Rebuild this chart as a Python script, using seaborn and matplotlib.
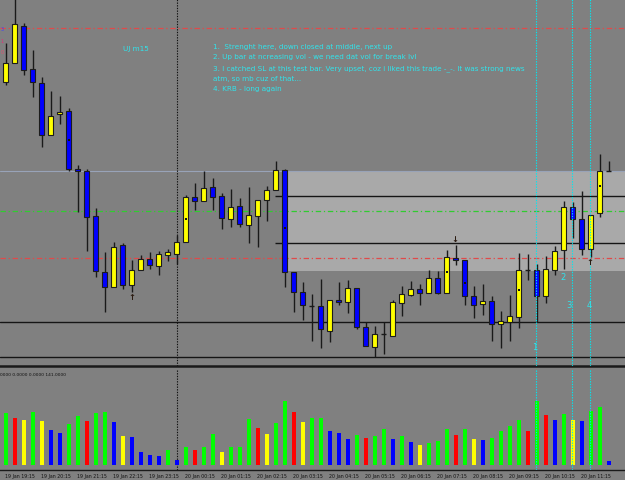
import matplotlib
matplotlib.use("Agg")
import matplotlib.pyplot as plt
import numpy as np
import pandas as pd
import seaborn as sns
from matplotlib.patches import Rectangle
from matplotlib.transforms import blended_transform_factory

# ---------------- data ----------------
opens = [286.7, 305.7, 342.7, 299.7, 285.7, 234.3, 254.7, 257.7, 199.7, 197.7,
         152.7, 97.3, 81.7, 124.3, 84.3, 98.7, 109.7, 103.3, 114.0, 115.3,
         126.7, 172.0, 168.0, 181.7, 173.3, 150.0, 163.0, 144.3, 153.3, 169.0,
         178.7, 198.7, 96.7, 76.7, 62.7, 62.7, 38.3, 69.3, 67.3, 80.7,
         41.7, 21.7, 35.0, 33.3, 66.3, 74.3, 79.7, 75.7, 91.0, 76.3,
         111.0, 108.7, 73.3, 64.7, 67.7, 44.7, 46.7, 52.3, 98.7, 99.0,
         73.3, 99.3, 118.7, 161.7, 150.0, 119.7, 155.7, 197.7]
highs = [325.7, 373.0, 346.3, 319.3, 291.7, 278.3, 272.7, 260.7, 204.3, 200.0,
         161.3, 116.7, 127.3, 125.7, 109.3, 114.3, 116.7, 118.3, 120.0, 134.0,
         174.0, 186.0, 198.0, 191.0, 176.0, 179.7, 170.7, 182.0, 169.3, 183.3,
         207.7, 200.0, 96.7, 87.3, 75.0, 90.0, 69.3, 86.7, 89.0, 80.7,
         46.7, 42.7, 46.7, 69.3, 83.3, 87.7, 85.0, 99.0, 97.7, 119.0,
         124.3, 108.7, 83.3, 85.0, 72.7, 57.7, 74.0, 116.0, 114.7, 105.0,
         112.7, 122.7, 168.3, 166.7, 178.0, 154.0, 215.0, 208.3]
lows = [284.3, 305.7, 294.0, 272.3, 222.0, 234.3, 245.0, 198.3, 157.3, 118.0,
        91.7, 57.3, 81.7, 80.0, 77.0, 98.7, 100.0, 94.0, 108.3, 105.0,
        126.7, 159.5, 168.0, 159.3, 140.0, 142.3, 142.3, 125.7, 122.3, 148.3,
        178.7, 81.7, 56.7, 49.3, 28.3, 21.0, 27.3, 64.0, 55.7, 40.0,
        22.7, 11.7, 15.0, 33.3, 53.3, 73.3, 64.0, 75.7, 75.0, 75.7,
        104.3, 64.0, 51.3, 54.0, 28.3, 21.3, 28.3, 41.3, 89.3, 46.7,
        65.7, 94.3, 100.0, 131.0, 114.3, 111.7, 152.3, 197.7]
closes = [305.7, 345.3, 299.3, 287.3, 234.3, 252.7, 256.7, 200.3, 198.3, 152.3,
          98.3, 81.7, 122.0, 84.0, 99.0, 109.7, 104.0, 114.7, 116.7, 126.7,
          172.0, 168.3, 180.7, 172.3, 151.3, 161.7, 145.0, 154.0, 169.3, 178.7,
          198.7, 96.7, 76.7, 64.3, 62.7, 40.0, 69.3, 67.3, 80.7, 41.7,
          22.7, 34.7, 35.0, 66.7, 74.7, 79.7, 75.7, 91.3, 76.0, 112.0,
          108.7, 73.3, 64.3, 67.7, 45.0, 47.7, 53.0, 98.7, 98.7, 73.3,
          99.7, 118.3, 161.7, 150.0, 119.7, 154.0, 197.7, 197.7]

volumes = [1822, 1657, 1586, 1879, 1562, 1234, 1128, 1445, 1717, 1562,
           1844, 1858, 1505, 1022, 998, 448, 363, 317, 539, 187,
           624, 529, 624, 1093, 458, 624, 635, 1622, 1304, 1093,
           1491, 2267, 1879, 1505, 1657, 1667, 1188, 1128, 927, 1058,
           952, 1022, 1280, 927, 1033, 821, 716, 786, 857, 1280,
           1047, 1280, 917, 881, 952, 1209, 1375, 1586, 1209, 2267,
           1773, 1586, 1808, 1586, 1562, 1893, 2034, 141]
volume_kind = list("GRYGYBBGGRGGBYBBBBGBGRGGYGGGRYGGRYGGBBBGRGGBGBYGGGRGYBGGGGRGRBGYBGGB")

label_bars = [0, 4, 8, 12, 16, 20, 24, 28, 32, 36, 40, 44, 48, 52, 56, 60, 64]
time_labels = ["19 Jan 19:15", "19 Jan 20:15", "19 Jan 21:15", "19 Jan 22:15",
               "19 Jan 23:15", "20 Jan 00:15", "20 Jan 01:15", "20 Jan 02:15",
               "20 Jan 03:15", "20 Jan 04:15", "20 Jan 05:15", "20 Jan 06:15",
               "20 Jan 07:15", "20 Jan 08:15", "20 Jan 09:15", "20 Jan 10:15",
               "20 Jan 11:15"]

dot_bars = [7, 20, 31, 49, 51, 57, 66]
dot_levels = [229.3, 150.0, 141.3, 97.3, 86.0, 79.0, 183.3]

red_levels = [341.3, 110.7]
green_level = 157.7
blue_level = 198.0
black_levels = [46.7, 11.7]
zone_line_levels = [173.0, 125.7]
zone_start_bar = 31.33
zone_low, zone_high = 97.7, 198.3
separator_bar = 19
signal_bars = [58.96, 62.96, 64.96]

notes = ["1.  Strenght here, down closed at middle, next up",
         "2. Up bar at ncreasing vol - we need dat vol for break lvl",
         "3. I catched SL at this test bar. Very upset, coz i liked this trade -_-. It was strong news",
         "atm, so mb cuz of that...",
         "4. KRB - long again"]
signal_names = ["1", "2", "3", "4"]

# ---------------- figure ----------------
W, H = 625, 481
BG = "#808080"
sns.set_style("white")
plt.rcParams["font.family"] = ["DejaVu Sans"]

fig = plt.figure(figsize=(W / 100, H / 100), dpi=100, facecolor=BG)
ax = fig.add_axes([0, (H - 367) / H, 1, 367 / H], facecolor=BG)
axv = fig.add_axes([0, (H - 470.7) / H, 1, 100.7 / H], facecolor=BG)

n = len(opens)
xlim = (-5.7 / 9, (W - 5.7) / 9)

def fpx(x, y):
    return x / W, 1 - y / H

# zone
ax.add_patch(Rectangle((zone_start_bar, zone_low), 80, zone_high - zone_low,
                       facecolor="#a9a9a9", edgecolor="none", zorder=0.5))
ax.axhline(blue_level, color="#98a3b8", lw=0.8, zorder=0.8)

dashdot = (0, (4.3, 2.2, 1.0, 2.2))
for lv in red_levels:
    ax.axhline(lv, color="#e04a4a", lw=0.9, ls=dashdot, zorder=1)
ax.axhline(green_level, color="#30cc30", lw=0.9, ls=dashdot, zorder=1)
for lv in black_levels:
    ax.axhline(lv, color="#151515", lw=1.0, zorder=1)
for lv in zone_line_levels:
    ax.hlines(lv, (275 - 5.7) / 9, 80, color="#151515", lw=1.0, zorder=1)

for a in (ax, axv):
    a.axvline(separator_bar, color="#111111", lw=0.8, ls=(0, (1.2, 1.2)), zorder=1.5)

# candles
bw = 0.62
for k in range(n):
    o, h, l, c = opens[k], highs[k], lows[k], closes[k]
    ax.vlines(k, l, h, color="#1a1a1a", lw=1.0, zorder=2)
    if abs(c - o) < 0.01:
        ax.hlines(o, k - bw / 2, k + bw / 2, color="#1a1a1a", lw=1.0, zorder=3)
    else:
        fill = "#ffff00" if c > o else "#0000ff"
        ax.bar(k, abs(c - o), bottom=min(o, c), width=bw, color=fill,
               edgecolor="#1c1c1c", lw=0.8, zorder=3)
ax.scatter(dot_bars, dot_levels, s=2, marker="s", color="#111111", zorder=4, linewidths=0)

for sb in signal_bars:
    for a in (ax, axv):
        a.axvline(sb, color="#00e8f0", lw=0.8, ls=(0, (1.2, 1.2)), zorder=5)

ax.set_xlim(*xlim)
ax.set_ylim(3, 370)
ax.set_xticks([])
ax.set_yticks([])
for s in ["top", "left", "right"]:
    ax.spines[s].set_visible(False)
ax.spines["bottom"].set_color("#1a1a1a")
ax.spines["bottom"].set_linewidth(1.8)

# texts
cyan = "#30e4ec"
fig.text(*fpx(122.7, 49.3), "UJ m15", color=cyan, fontsize=5.2, va="center", ha="left")
for yy, t in zip([46.7, 57.3, 68.3, 79.3, 89.3], notes):
    fig.text(*fpx(213.3, yy), t, color=cyan, fontsize=5.2, va="center", ha="left")
for (xx, yy), t in zip([(535, 348), (563, 277.7), (569, 305.7), (589.3, 305.7)], signal_names):
    fig.text(*fpx(xx, yy), t, color=cyan, fontsize=6, va="center", ha="center")
for (xx, yy), t in zip([(131.7, 297.7), (455, 240), (590, 262.7)], ["↑", "↓", "↑"]):
    fig.text(*fpx(xx, yy), t, color="#2a1a10", fontsize=6, fontweight="bold",
             va="center", ha="center")
for (yy, t, col) in [(29.5, "3", "#4040ff"), (41.7, "1", "#e0307a"), (52.7, "0", "#e05070")]:
    fig.text(*fpx(0.3, yy), t, color=col, fontsize=3.5, va="center", ha="left")

# volume panel
df = pd.DataFrame({"bar": np.arange(n), "volume": volumes, "kind": volume_kind})
cmap = {"G": "#00ff00", "R": "#ff0000", "Y": "#ffff00", "B": "#0000ff"}
palette = {b: cmap[k] for b, k in zip(df["bar"], df["kind"])}
sns.barplot(data=df, x="bar", y="volume", hue="bar", palette=palette, legend=False,
            width=0.45, saturation=1, ax=axv, linewidth=0, zorder=3)
axv.set_xlim(*xlim)
axv.set_ylim(-166, 3384)
axv.set_xlabel("")
axv.set_ylabel("")
axv.set_yticks([])
axv.set_xticks(label_bars)
axv.set_xticklabels([])
axv.tick_params(axis="x", direction="inout", length=4, width=0.8, color="#111111")
for s in ["top", "left", "right"]:
    axv.spines[s].set_visible(False)
axv.spines["bottom"].set_color("#1a1a1a")
axv.spines["bottom"].set_linewidth(1.0)
tr = blended_transform_factory(axv.transData, axv.transAxes)
for b, t in zip(label_bars, time_labels):
    axv.text(b - 0.05, (470.7 - 476.6) / 100.7, t, transform=tr, fontsize=3.4,
             color="#111111", ha="left", va="center", clip_on=False)
fig.text(*fpx(0, 375), "0000 0.0000 0.0000 141.0000", fontsize=3.2, color="#111111",
         ha="left", va="center")

fig.savefig("out.png", dpi=100, facecolor=BG)
